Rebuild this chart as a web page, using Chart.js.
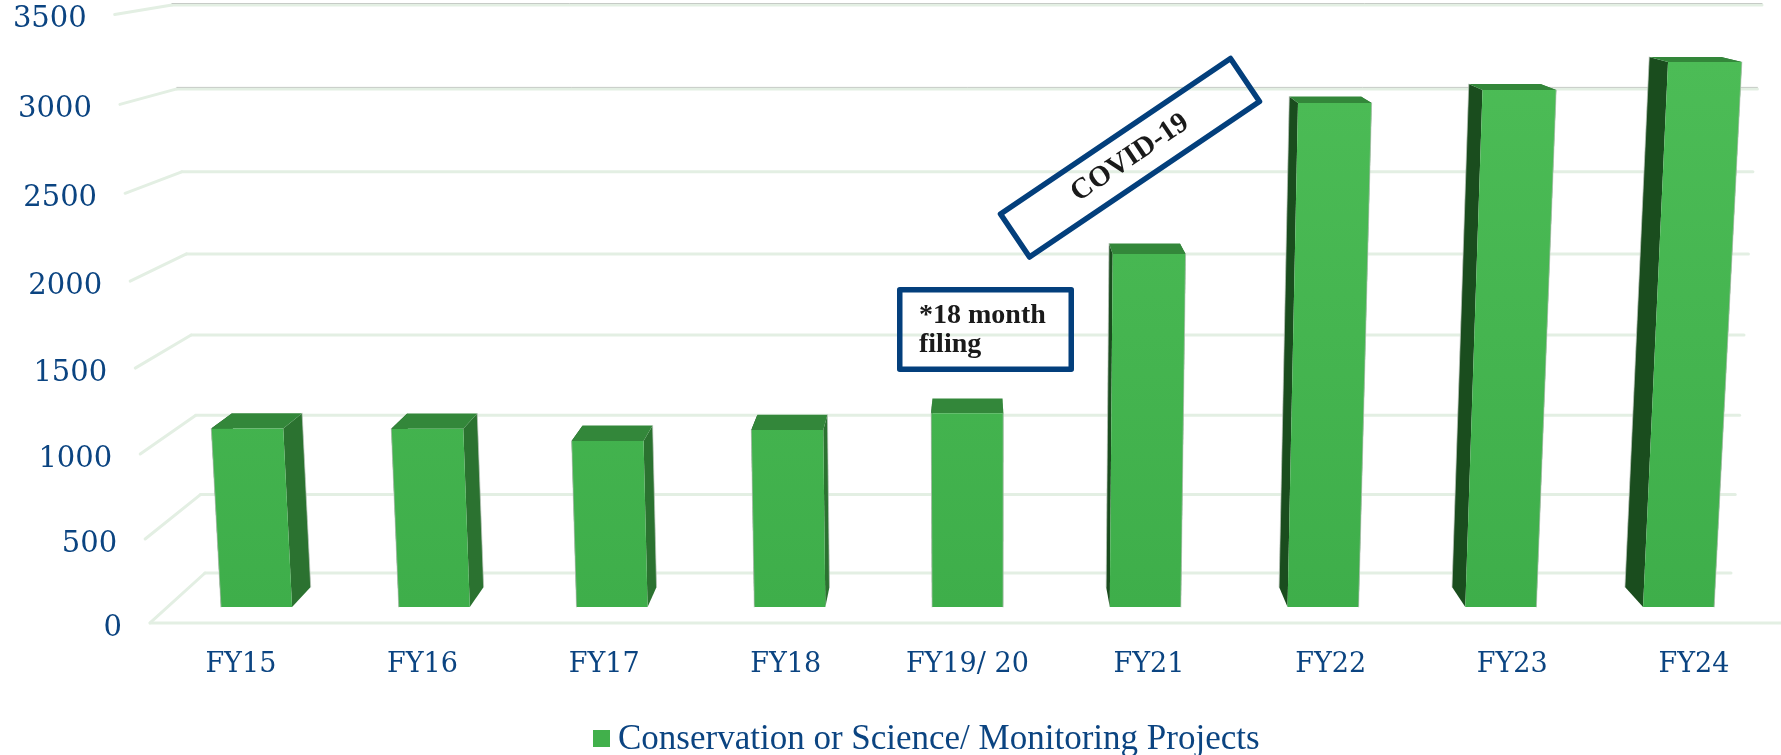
<!DOCTYPE html>
<html>
<head>
<meta charset="utf-8">
<title>Conservation or Science/ Monitoring Projects</title>
<script src="https://cdn.jsdelivr.net/npm/chart.js@4/dist/chart.umd.js"></script>
<style>
  html, body { margin: 0; padding: 0; background: #fff; }
  canvas { display: block; }
</style>
</head>
<body>
<canvas id="grafico" width="1781" height="755"></canvas>
<script>
// Datos
const categories = ['FY15', 'FY16', 'FY17', 'FY18', 'FY19/ 20', 'FY21', 'FY22', 'FY23', 'FY24'];
const projects = [1079, 1077, 1004, 1070, 1170, 2108, 2980, 3054, 3213];
const seriesName = 'Conservation or Science/ Monitoring Projects';
const axisMax = 3500;
const axisStep = 500;

const navy = '#0b4481';
const boxBlue = '#033f7c';
const gridGreen = '#e3efe3';
const edgeGrey = 'rgba(190, 198, 190, 0.7)';

// Camera of the fake 3D view: everything converges on this point
const vanish = { x: 977, y: -129 };
const kFloor = 1.0712;
const kBarFront = 1.0484;
const kBarBack = 1.0199;

// Back wall point (from scale pixels) pushed forward by k
function project(chart, px, py, k) {
  const area = chart.chartArea;
  const t = (area.bottom - py) / (area.bottom - area.top);
  const y = py + 22.4 * t * (1 - t);
  const left = 172 + (y - 5) * 33 / 568;
  const right = 1762 - (y - 5) * 31 / 568;
  const u = (px - area.left) / (area.right - area.left);
  const x = left + u * (right - left);
  return { x: vanish.x + (x - vanish.x) * k, y: vanish.y + (y - vanish.y) * k };
}

function poly(ctx, pts, fill) {
  ctx.beginPath();
  pts.forEach(function(p, i) {
    if (i === 0) ctx.moveTo(p.x, p.y);
    else ctx.lineTo(p.x, p.y);
  });
  ctx.closePath();
  ctx.fillStyle = fill;
  ctx.fill();
}

function segment(ctx, a, b, color, width) {
  ctx.beginPath();
  ctx.moveTo(a.x, a.y);
  ctx.lineTo(b.x, b.y);
  ctx.strokeStyle = color;
  ctx.lineWidth = width;
  ctx.lineCap = 'round';
  ctx.stroke();
}

const perspective = {
  id: 'perspective',

  // grid and axis text
  beforeDatasetsDraw(chart) {
    const ctx = chart.ctx;
    const area = chart.chartArea;
    const yScale = chart.scales.y;
    const xScale = chart.scales.x;
    ctx.save();
    yScale.ticks.forEach(function(tick) {
      const py = yScale.getPixelForValue(tick.value);
      const backLeft = project(chart, area.left, py, 1);
      const backRight = project(chart, area.right, py, 1);
      const frontLeft = project(chart, area.left, py, kFloor);
      segment(ctx, backLeft, frontLeft, gridGreen, 3);
      segment(ctx, backLeft, backRight, gridGreen, 3);
      if (tick.value >= 3000) {
        segment(ctx, { x: backLeft.x, y: backLeft.y - 1.5 }, { x: backRight.x, y: backRight.y - 1.5 }, '#c6cbc6', 1);
      }
      ctx.font = '29px "DejaVu Serif"';
      ctx.fillStyle = navy;
      ctx.textAlign = 'right';
      ctx.textBaseline = 'middle';
      ctx.fillText(String(tick.value), frontLeft.x - 28, frontLeft.y + 5);
    });
    const floorLeft = project(chart, area.left, area.bottom, kFloor);
    const floorRight = project(chart, area.right, area.bottom, kFloor);
    segment(ctx, floorLeft, floorRight, gridGreen, 3);

    ctx.font = '27px "DejaVu Serif"';
    ctx.fillStyle = navy;
    ctx.textAlign = 'center';
    ctx.textBaseline = 'middle';
    categories.forEach(function(name, i) {
      const p = project(chart, xScale.getPixelForValue(i), area.bottom, kFloor);
      ctx.fillText(name, p.x, 665);
    });
    ctx.restore();
  },

  // replaces the flat bars
  beforeDatasetDraw(chart, args) {
    const ctx = chart.ctx;
    const meta = chart.getDatasetMeta(args.index);
    const gradient = ctx.createLinearGradient(0, 60, 0, 607);
    gradient.addColorStop(0, '#4cbc56');
    gradient.addColorStop(1, '#3eae4a');
    ctx.save();
    meta.data.forEach(function(bar) {
      const l = bar.x - bar.width / 2;
      const r = bar.x + bar.width / 2;
      const ftl = project(chart, l, bar.y, kBarFront);
      const ftr = project(chart, r, bar.y, kBarFront);
      const fbl = project(chart, l, bar.base, kBarFront);
      const fbr = project(chart, r, bar.base, kBarFront);
      const btl = project(chart, l, bar.y, kBarBack);
      const btr = project(chart, r, bar.y, kBarBack);
      const bbl = project(chart, l, bar.base, kBarBack);
      const bbr = project(chart, r, bar.base, kBarBack);
      poly(ctx, [ftl, btl, bbl, fbl], '#1a4d1e');
      poly(ctx, [ftr, btr, bbr, fbr], '#2b7230');
      poly(ctx, [ftl, btl, btr, ftr], '#33873a');
      poly(ctx, [ftl, ftr, fbr, fbl], gradient);
      // thin pale outline on the outer edges
      if (btl.x < ftl.x) segment(ctx, btl, bbl, edgeGrey, 1);
      else segment(ctx, ftl, fbl, edgeGrey, 1);
      if (btr.x > ftr.x) segment(ctx, btr, bbr, edgeGrey, 1);
      else segment(ctx, ftr, fbr, edgeGrey, 1);
    });
    ctx.restore();
    return false;
  },

  // legend and the two notes
  afterDraw(chart) {
    const ctx = chart.ctx;
    ctx.save();
    ctx.fillStyle = '#41b04b';
    ctx.fillRect(593, 730, 17, 17);
    ctx.font = '35px "Liberation Serif"';
    ctx.fillStyle = navy;
    ctx.textAlign = 'left';
    ctx.textBaseline = 'alphabetic';
    ctx.fillText(seriesName, 618, 749);

    ctx.strokeStyle = boxBlue;
    ctx.lineWidth = 5.5;
    ctx.lineJoin = 'round';
    ctx.strokeRect(899.75, 289.75, 171.5, 79.5);
    ctx.font = 'bold 28px "Liberation Serif"';
    ctx.fillStyle = '#1a1a1a';
    ctx.fillText('*18 month', 919, 323);
    ctx.fillText('filing', 919, 352);

    ctx.beginPath();
    ctx.moveTo(1230.5, 58.5);
    ctx.lineTo(1259.5, 101.5);
    ctx.lineTo(1029.5, 257);
    ctx.lineTo(1000.5, 214);
    ctx.closePath();
    ctx.stroke();
    ctx.translate(1130, 158);
    ctx.rotate(-34 * Math.PI / 180);
    ctx.font = 'bold 29px "Liberation Serif"';
    ctx.textAlign = 'center';
    ctx.textBaseline = 'middle';
    ctx.fillText('COVID-19', 0, 0);
    ctx.restore();
  }
};

new Chart(document.getElementById('grafico'), {
  type: 'bar',
  data: {
    labels: categories,
    datasets: [{
      label: seriesName,
      data: projects,
      backgroundColor: '#41b04b',
      barPercentage: 0.4,
      categoryPercentage: 1
    }]
  },
  options: {
    responsive: false,
    animation: false,
    layout: { padding: { left: 205, right: 50, top: 5, bottom: 182 } },
    plugins: {
      legend: { display: false },
      tooltip: { enabled: false }
    },
    scales: {
      x: { display: false },
      y: { display: false, min: 0, max: axisMax, ticks: { stepSize: axisStep } }
    }
  },
  plugins: [perspective]
});
</script>
</body>
</html>
